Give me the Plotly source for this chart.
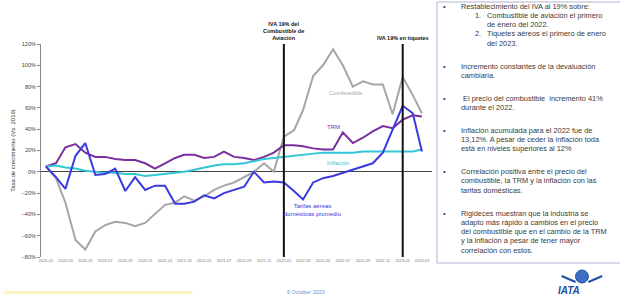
import plotly.graph_objects as go
import pandas as pd

# ---- data (monthly, growth vs 2019, %) ----
months = pd.date_range("2020-01-01", "2023-03-01", freq="MS")

combustible = [5, -6, -29, -64, -73, -56, -50, -47, -48, -51, -48, -40, -31, -29, -23, -27,
               -23, -17, -13, -10, -5, 0, 8, 0, 33, 39, 58, 90, 100, 115, 100, 80, 85, 82,
               82, 54, 89, 72, 55]
trm = [5, 8, 23, 26, 18, 14, 14, 12, 11, 11, 8, 3, 8, 13, 16, 16, 13, 14, 19, 14, 13, 11,
       14, 18, 25, 25, 24, 22, 21, 21, 37, 27, 32, 38, 43, 41, 49, 53, 52]
inflacion = [5, 6, 4, 3, 1, 0, -1, -1, -2, -2, -4, -3, -2, -1, 0, 2, 4, 6, 7, 7, 8, 10, 12,
             13, 14, 15, 16, 17, 18, 18, 18, 18, 19, 19, 19, 19, 19, 19, 21]
tarifas = [5, -5, -16, 15, 27, -3, -2, 3, -18, -5, -17, -13, -13, -30, -30, -28, -22, -25,
           -20, -17, -14, 0, -10, -9, -10, -18, -26, -10, -6, -4, -1, 2, 5, 8, 18, 40, 62,
           55, 19]

eventos = ["2022-01-01", "2023-01-01"]
eventos_txt = ["<b>IVA 19% del<br>Combustible de<br>Aviación</b>", "<b>IVA 19% en tiquetes</b>"]

bullets = [
    ["Restablecimiento del IVA al 19% sobre:"],
    ["Incremento constantes de la devaluación", "cambiaria."],
    [" El precio del combustible  incremento 41%", "durante el 2022."],
    ["Inflación acumulada para el 2022 fue de", "13,12%. A pesar de ceder la inflación toda",
     "está en niveles superiores al 12%"],
    ["Correlación positiva entre el precio del", "combustible, la TRM y la inflación con las",
     "tarifas domésticas."],
    ["Rigideces muestran que la industria se", "adapto más rápido a cambios en el precio",
     "del combustible que en el cambio de la TRM", "y la inflación a pesar de tener mayor",
     "correlación con estos."],
]
sub_items = [["1.", "Combustible de aviación el primero", "de enero del 2022."],
             ["2.", "Tiquetes aéreos el primero de enero", "del 2023."]]

W, H = 620, 297
L, R, T, B = 37, 188, 44, 40
pw, ph = W - L - R, H - T - B


def px(x):
    return (x - L) / pw


def py(y):
    return (H - B - y) / ph


fig = go.Figure()
series = [
    ("Combustible", combustible, "#a6a6a6"),
    ("TRM", trm, "#7b2f9e"),
    ("Inflación", inflacion, "#33c6d6"),
    ("Tarifas", tarifas, "#3a3ae0"),
]
for name, vals, col in series:
    fig.add_trace(go.Scatter(x=months, y=vals, mode="lines", name=name,
                             line=dict(color=col, width=2), showlegend=False))

for d, t in zip(eventos, eventos_txt):
    fig.add_shape(type="line", x0=d, x1=d, xref="x", yref="y", y0=-80, y1=120,
                  line=dict(color="#111", width=2))
    fig.add_annotation(x=d, y=120, xref="x", yref="y", yanchor="bottom", yshift=1,
                       text=t, showarrow=False, font=dict(size=5.5, color="#111"))

fnt = "Liberation Sans, Arial"
nfnt = "Liberation Sans Narrow, Arial Narrow, Liberation Sans, Arial"
fig.add_annotation(x="2022-07-10", y=74, text="Combustible", showarrow=False,
                   font=dict(size=6, color="#a6a6a6", family=nfnt))
fig.add_annotation(x="2022-06-01", y=42, text="TRM", showarrow=False,
                   font=dict(size=6, color="#7b2f9e", family=nfnt))
fig.add_annotation(x="2022-06-15", y=8, text="Inflación", showarrow=False,
                   font=dict(size=6, color="#33c6d6", family=nfnt))
fig.add_annotation(x="2022-04-01", y=-36, text="Tarifas aéreas<br>domésticas promedio",
                   showarrow=False, font=dict(size=6, color="#3a3ae0", family=nfnt))

# text box
fig.add_shape(type="rect", xref="paper", yref="paper", x0=px(437), x1=px(640),
              y0=py(263), y1=py(2), line=dict(color="#b3b3d6", width=1), fillcolor="white",
              layer="below")
tcol = "#3a3a3a"
fs = 7.4
ys = 6
lh = 9.3
gap = 13.5
for i, b in enumerate(bullets):
    fig.add_annotation(x=px(445), y=py(ys), xref="paper", yref="paper", text="•",
                       showarrow=False, xanchor="center", yanchor="middle",
                       font=dict(size=fs, color=tcol, family=fnt))
    for j, line in enumerate(b):
        fig.add_annotation(x=px(459), y=py(ys + j * lh), xref="paper", yref="paper",
                           text=line, showarrow=False, xanchor="left", yanchor="middle",
                           font=dict(size=fs, color=tcol, family=fnt))
    yy = ys + len(b) * lh
    if i == 0:
        for s in sub_items:
            fig.add_annotation(x=px(473), y=py(yy), xref="paper", yref="paper", text=s[0],
                               showarrow=False, xanchor="left", yanchor="middle",
                               font=dict(size=fs, color=tcol, family=fnt))
            fig.add_annotation(x=px(486), y=py(yy), xref="paper", yref="paper", text=s[1],
                               showarrow=False, xanchor="left", yanchor="middle",
                               font=dict(size=fs, color=tcol, family=fnt))
            fig.add_annotation(x=px(486), y=py(yy + lh), xref="paper", yref="paper",
                               text=s[2], showarrow=False, xanchor="left",
                               yanchor="middle", font=dict(size=fs, color=tcol, family=fnt))
            yy += 2 * lh
    ys = yy + gap - lh + lh

# footer
fig.add_shape(type="rect", xref="paper", yref="paper", x0=px(0), x1=px(190),
              y0=py(294), y1=py(291), line=dict(width=0), fillcolor="#fbf3c4")
fig.add_annotation(x=px(325), y=py(292), xref="paper", yref="paper", text="6 October 2023",
                   showarrow=False, yanchor="middle", borderpad=0,
                   font=dict(size=5.5, color="#6f8fcf", family=fnt))
fig.add_shape(type="circle", xref="paper", yref="paper", x0=px(577), x1=px(590),
              y0=py(283), y1=py(270), line=dict(color="#1f4ea3", width=1),
              fillcolor="#3d6fc4")
fig.add_shape(type="line", xref="paper", yref="paper", x0=px(563), x1=px(577),
              y0=py(276), y1=py(282), line=dict(color="#1f4ea3", width=2))
fig.add_shape(type="line", xref="paper", yref="paper", x0=px(590), x1=px(604),
              y0=py(282), y1=py(276), line=dict(color="#1f4ea3", width=2))
fig.add_annotation(x=px(583), y=py(290), xref="paper", yref="paper",
                   text="<b><i>IATA</i></b>", showarrow=False, yanchor="middle",
                   borderpad=0, font=dict(size=10, color="#1f4ea3", family=fnt))

fig.update_layout(
    width=W, height=H, margin=dict(l=L, r=R, t=T, b=B),
    paper_bgcolor="white", plot_bgcolor="white",
    font=dict(family=fnt),
    xaxis=dict(range=["2019-12-17", "2023-04-01"], tickformat="%Y-%m", dtick="M2",
               tick0="2020-01-01", showgrid=False, showline=False, ticks="",
               tickfont=dict(size=4, color="#777"), tickangle=0),
    yaxis=dict(range=[-80, 120], dtick=20, ticksuffix="%", showgrid=False,
               showline=True, linecolor="#888", linewidth=1, ticks="outside", ticklen=3,
               tickcolor="#888", tickfont=dict(size=5.5, color="#444"),
               zeroline=True, zerolinecolor="#444", zerolinewidth=1,
               title=dict(text="Tasa de crecimiento (Vs. 2019)",
                          font=dict(size=6, color="#333"), standoff=5)),
)

fig.write_html("out.html", config={"displayModeBar": False},
               post_script="document.body.style.margin='0px';"
                           "document.body.style.overflow='hidden';")
